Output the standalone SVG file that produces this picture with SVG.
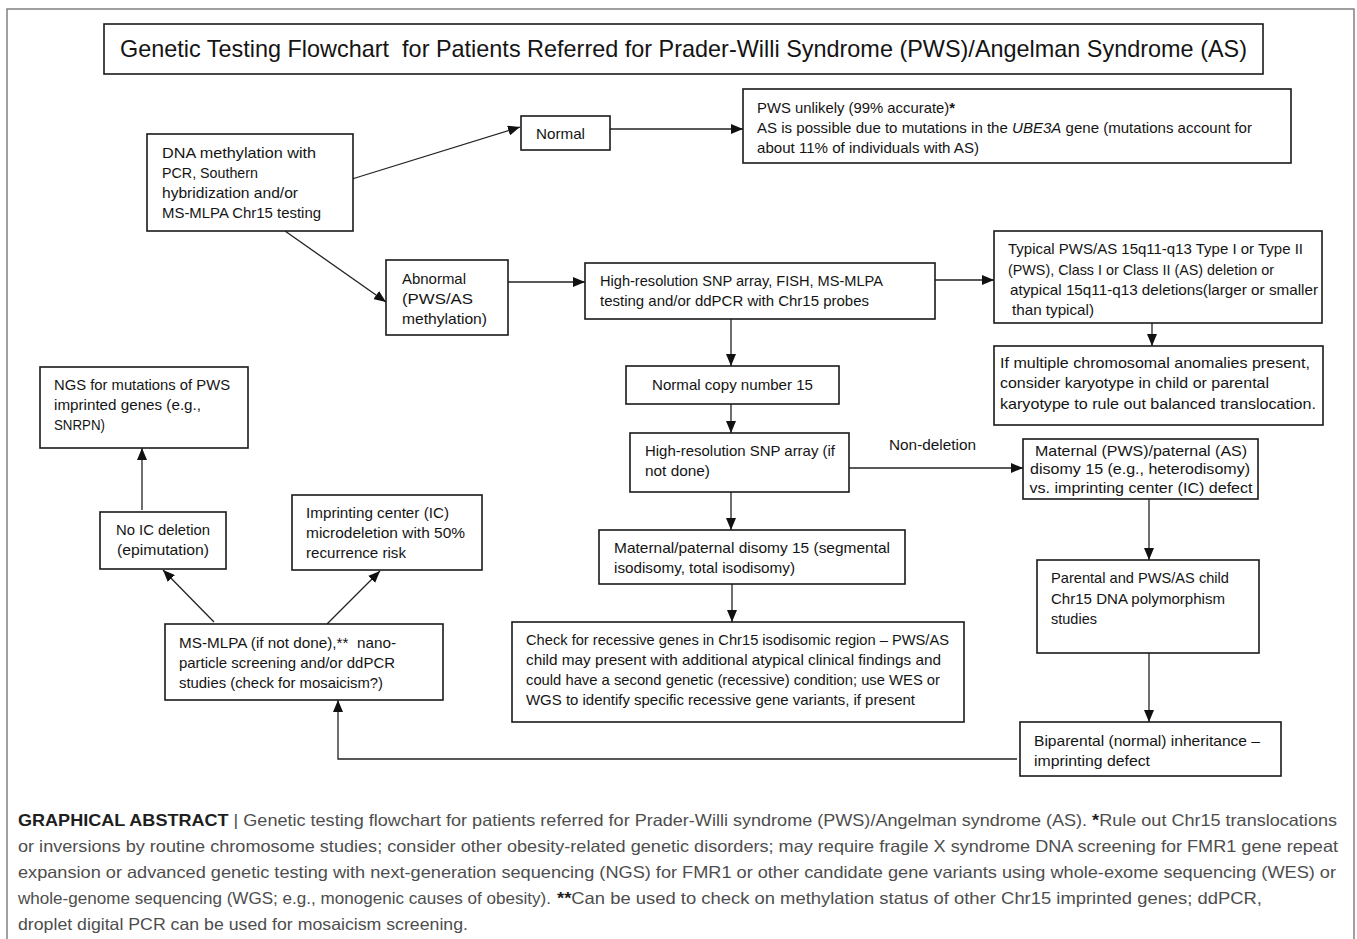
<svg xmlns="http://www.w3.org/2000/svg" width="1357" height="939" viewBox="0 0 1357 939">
<style>
.box{fill:#fff;stroke:#1a1a1a;stroke-width:1.6}
.t{font-family:"Liberation Sans",Arial,sans-serif;font-size:15px;fill:#141414}
.c{font-family:"Liberation Sans",Arial,sans-serif;font-size:16.5px;fill:#4d4d4d}
.b{font-weight:bold;fill:#1e1e1e}
.conn{stroke:#222;stroke-width:1.3;fill:none;marker-end:url(#arr)}
</style>
<defs>
<marker id="arr" markerWidth="12" markerHeight="10" refX="12" refY="5" orient="auto" markerUnits="userSpaceOnUse"><path d="M0,0 L12,5 L0,10 z" fill="#111"/></marker>
</defs>
<rect width="1357" height="939" fill="#fff"/>
<rect x="7" y="9" width="1347" height="945" fill="none" stroke="#808080" stroke-width="1.5"/>

<g id="title">
<rect class="box" x="104" y="24" width="1159" height="50"/>
<text class="t" x="120" y="57" style="font-size:24px" textLength="1127" lengthAdjust="spacingAndGlyphs" xml:space="preserve">Genetic Testing Flowchart  for Patients Referred for Prader-Willi Syndrome (PWS)/Angelman Syndrome (AS)</text>
</g>

<g id="connectors">
<line class="conn" x1="352" y1="179" x2="520" y2="127"/>
<line class="conn" x1="285" y1="231" x2="386" y2="302"/>
<line class="conn" x1="610" y1="129" x2="743" y2="129"/>
<line class="conn" x1="508" y1="282" x2="585" y2="282"/>
<line class="conn" x1="935" y1="280" x2="994" y2="280"/>
<line class="conn" x1="1152" y1="323" x2="1152" y2="346"/>
<line class="conn" x1="731" y1="319" x2="731" y2="366"/>
<line class="conn" x1="731" y1="404" x2="731" y2="433"/>
<line class="conn" x1="849" y1="468" x2="1023" y2="468"/>
<line class="conn" x1="731" y1="492" x2="731" y2="530"/>
<line class="conn" x1="732" y1="584" x2="732" y2="622"/>
<line class="conn" x1="1149" y1="499" x2="1149" y2="560"/>
<line class="conn" x1="1149" y1="653" x2="1149" y2="722"/>
<path class="conn" d="M1017,759 H338 V700"/>
<line class="conn" x1="214" y1="622" x2="163" y2="570"/>
<line class="conn" x1="327" y1="624" x2="380" y2="571"/>
<line class="conn" x1="142" y1="510" x2="142" y2="448"/>
<text class="t" x="889" y="450" textLength="87" lengthAdjust="spacingAndGlyphs">Non-deletion</text>
</g>

<g id="nodeDNA">
<rect class="box" x="147" y="134" width="206" height="97"/>
<text class="t" x="162" y="158" textLength="154" lengthAdjust="spacingAndGlyphs">DNA methylation with</text>
<text class="t" x="162" y="178" textLength="96" lengthAdjust="spacingAndGlyphs">PCR, Southern</text>
<text class="t" x="162" y="198" textLength="136" lengthAdjust="spacingAndGlyphs">hybridization and/or</text>
<text class="t" x="162" y="218" textLength="159" lengthAdjust="spacingAndGlyphs">MS-MLPA Chr15 testing</text>
</g>

<g id="nodeNormal">
<rect class="box" x="521" y="116" width="89" height="34"/>
<text class="t" x="536" y="139" textLength="49" lengthAdjust="spacingAndGlyphs">Normal</text>
</g>

<g id="nodePWSunlikely">
<rect class="box" x="743" y="89" width="548" height="74"/>
<text class="t" x="757" y="113" textLength="198" lengthAdjust="spacingAndGlyphs">PWS unlikely (99% accurate)<tspan font-weight="bold">*</tspan></text>
<text class="t" x="757" y="133" textLength="495" lengthAdjust="spacingAndGlyphs">AS is possible due to mutations in the <tspan font-style="italic">UBE3A</tspan> gene (mutations account for</text>
<text class="t" x="757" y="153" textLength="222" lengthAdjust="spacingAndGlyphs">about 11% of individuals with AS)</text>
</g>

<g id="nodeAbnormal">
<rect class="box" x="386" y="260" width="122" height="75"/>
<text class="t" x="402" y="284" textLength="64" lengthAdjust="spacingAndGlyphs">Abnormal</text>
<text class="t" x="402" y="304" textLength="71" lengthAdjust="spacingAndGlyphs">(PWS/AS</text>
<text class="t" x="402" y="324" textLength="85" lengthAdjust="spacingAndGlyphs">methylation)</text>
</g>

<g id="nodeHighRes">
<rect class="box" x="585" y="263" width="350" height="56"/>
<text class="t" x="600" y="286" textLength="283" lengthAdjust="spacingAndGlyphs">High-resolution SNP array, FISH, MS-MLPA</text>
<text class="t" x="600" y="306" textLength="269" lengthAdjust="spacingAndGlyphs">testing and/or ddPCR with Chr15 probes</text>
</g>

<g id="nodeTypical">
<rect class="box" x="994" y="231" width="328" height="92"/>
<text class="t" x="1008" y="254" textLength="295" lengthAdjust="spacingAndGlyphs">Typical PWS/AS 15q11-q13 Type I or Type II</text>
<text class="t" x="1008" y="275" textLength="266" lengthAdjust="spacingAndGlyphs">(PWS), Class I or Class II (AS) deletion or</text>
<text class="t" x="1010" y="295" textLength="308" lengthAdjust="spacingAndGlyphs">atypical 15q11-q13 deletions(larger or smaller</text>
<text class="t" x="1012" y="315" textLength="82" lengthAdjust="spacingAndGlyphs">than typical)</text>
</g>

<g id="nodeIfMultiple">
<rect class="box" x="994" y="346" width="329" height="79"/>
<text class="t" x="1000" y="368" textLength="310" lengthAdjust="spacingAndGlyphs">If multiple chromosomal anomalies present,</text>
<text class="t" x="1000" y="388" textLength="269" lengthAdjust="spacingAndGlyphs">consider karyotype in child or parental</text>
<text class="t" x="1000" y="409" textLength="316" lengthAdjust="spacingAndGlyphs">karyotype to rule out balanced translocation.</text>
</g>

<g id="nodeNormalCopy">
<rect class="box" x="626" y="366" width="213" height="38"/>
<text class="t" x="652" y="390" textLength="161" lengthAdjust="spacingAndGlyphs">Normal copy number 15</text>
</g>

<g id="nodeSNP">
<rect class="box" x="630" y="433" width="219" height="59"/>
<text class="t" x="645" y="456" textLength="190" lengthAdjust="spacingAndGlyphs">High-resolution SNP array (if</text>
<text class="t" x="645" y="476" textLength="65" lengthAdjust="spacingAndGlyphs">not done)</text>
</g>

<g id="nodeMaternal">
<rect class="box" x="1023" y="439" width="235" height="60"/>
<text class="t" x="1141" y="456" text-anchor="middle" textLength="212" lengthAdjust="spacingAndGlyphs">Maternal (PWS)/paternal (AS)</text>
<text class="t" x="1140" y="474" text-anchor="middle" textLength="220" lengthAdjust="spacingAndGlyphs">disomy 15 (e.g., heterodisomy)</text>
<text class="t" x="1141" y="493" text-anchor="middle" textLength="223" lengthAdjust="spacingAndGlyphs">vs. imprinting center (IC) defect</text>
</g>

<g id="nodeDisomy">
<rect class="box" x="599" y="530" width="306" height="54"/>
<text class="t" x="614" y="553" textLength="276" lengthAdjust="spacingAndGlyphs">Maternal/paternal disomy 15 (segmental</text>
<text class="t" x="614" y="573" textLength="181" lengthAdjust="spacingAndGlyphs">isodisomy, total isodisomy)</text>
</g>

<g id="nodeCheck">
<rect class="box" x="512" y="622" width="452" height="100"/>
<text class="t" x="526" y="645" textLength="423" lengthAdjust="spacingAndGlyphs">Check for recessive genes in Chr15 isodisomic region – PWS/AS</text>
<text class="t" x="526" y="665" textLength="415" lengthAdjust="spacingAndGlyphs">child may present with additional atypical clinical findings and</text>
<text class="t" x="526" y="685" textLength="414" lengthAdjust="spacingAndGlyphs">could have a second genetic (recessive) condition; use WES or</text>
<text class="t" x="526" y="705" textLength="389" lengthAdjust="spacingAndGlyphs">WGS to identify specific recessive gene variants, if present</text>
</g>

<g id="nodeParental">
<rect class="box" x="1037" y="560" width="222" height="93"/>
<text class="t" x="1051" y="583" textLength="178" lengthAdjust="spacingAndGlyphs">Parental and PWS/AS child</text>
<text class="t" x="1051" y="604" textLength="174" lengthAdjust="spacingAndGlyphs">Chr15 DNA polymorphism</text>
<text class="t" x="1051" y="624" textLength="46" lengthAdjust="spacingAndGlyphs">studies</text>
</g>

<g id="nodeBiparental">
<rect class="box" x="1020" y="722" width="261" height="54"/>
<text class="t" x="1034" y="746" textLength="226" lengthAdjust="spacingAndGlyphs">Biparental (normal) inheritance –</text>
<text class="t" x="1034" y="766" textLength="116" lengthAdjust="spacingAndGlyphs">imprinting defect</text>
</g>

<g id="nodeNGS">
<rect class="box" x="40" y="367" width="208" height="81"/>
<text class="t" x="54" y="390" textLength="176" lengthAdjust="spacingAndGlyphs">NGS for mutations of PWS</text>
<text class="t" x="54" y="410" textLength="147" lengthAdjust="spacingAndGlyphs">imprinted genes (e.g.,</text>
<text class="t" x="54" y="430" textLength="51" lengthAdjust="spacingAndGlyphs">SNRPN)</text>
</g>

<g id="nodeNoIC">
<rect class="box" x="100" y="512" width="126" height="57"/>
<text class="t" x="163" y="535" text-anchor="middle" textLength="94" lengthAdjust="spacingAndGlyphs">No IC deletion</text>
<text class="t" x="163" y="555" text-anchor="middle" textLength="92" lengthAdjust="spacingAndGlyphs">(epimutation)</text>
</g>

<g id="nodeImprinting">
<rect class="box" x="292" y="495" width="190" height="75"/>
<text class="t" x="306" y="518" textLength="143" lengthAdjust="spacingAndGlyphs">Imprinting center (IC)</text>
<text class="t" x="306" y="538" textLength="159" lengthAdjust="spacingAndGlyphs">microdeletion with 50%</text>
<text class="t" x="306" y="558" textLength="100" lengthAdjust="spacingAndGlyphs">recurrence risk</text>
</g>

<g id="nodeMSMLPA">
<rect class="box" x="165" y="624" width="278" height="76"/>
<text class="t" x="179" y="648" textLength="217" lengthAdjust="spacingAndGlyphs" xml:space="preserve">MS-MLPA (if not done),**  nano-</text>
<text class="t" x="179" y="668" textLength="216" lengthAdjust="spacingAndGlyphs">particle screening and/or ddPCR</text>
<text class="t" x="179" y="688" textLength="204" lengthAdjust="spacingAndGlyphs">studies (check for mosaicism?)</text>
</g>

<g id="caption">
<text class="c" x="18" y="826" textLength="1319" lengthAdjust="spacingAndGlyphs"><tspan class="b">GRAPHICAL ABSTRACT</tspan> | Genetic testing flowchart for patients referred for Prader-Willi syndrome (PWS)/Angelman syndrome (AS). <tspan class="b">*</tspan>Rule out Chr15 translocations</text>
<text class="c" x="18" y="852" textLength="1320" lengthAdjust="spacingAndGlyphs">or inversions by routine chromosome studies; consider other obesity-related genetic disorders; may require fragile X syndrome DNA screening for FMR1 gene repeat</text>
<text class="c" x="18" y="878" textLength="1318" lengthAdjust="spacingAndGlyphs">expansion or advanced genetic testing with next-generation sequencing (NGS) for FMR1 or other candidate gene variants using whole-exome sequencing (WES) or</text>
<text class="c" x="18" y="904" textLength="533" lengthAdjust="spacingAndGlyphs">whole-genome sequencing (WGS; e.g., monogenic causes of obesity).</text>
<text class="c" x="557" y="904" textLength="705" lengthAdjust="spacingAndGlyphs"><tspan class="b">**</tspan>Can be used to check on methylation status of other Chr15 imprinted genes; ddPCR,</text>
<text class="c" x="18" y="930" textLength="450" lengthAdjust="spacingAndGlyphs">droplet digital PCR can be used for mosaicism screening.</text>
</g>
</svg>
